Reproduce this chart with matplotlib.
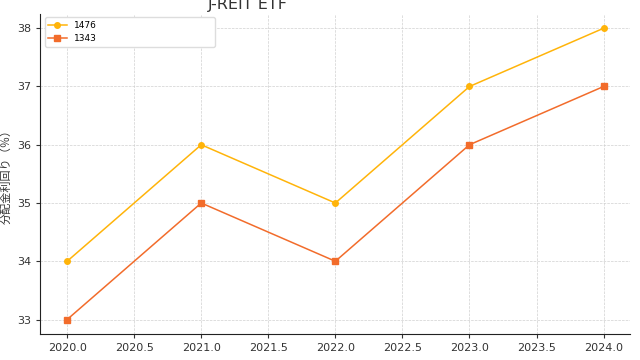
import matplotlib.pyplot as plt

years = [2020, 2021, 2022, 2023, 2024]
etf_1476 = [34, 36, 35, 37, 38]
etf_1343 = [33, 35, 34, 36, 37]

plt.rcParams['font.family'] = ['DejaVu Sans', 'Noto Sans CJK JP']

fig, ax = plt.subplots(figsize=(6.4, 3.6), dpi=100)
fig.subplots_adjust(left=0.063, right=0.985, top=0.962, bottom=0.072)

ax.plot(years, etf_1476, marker='o', markersize=4, linewidth=1.1, color='#FFB40A', label='1476')
ax.plot(years, etf_1343, marker='s', markersize=4, linewidth=1.1, color='#F26C2B', label='1343')

# title sits partly above the figure edge, like the original
fig.text(248 / 640, 1 - 9 / 360, 'J-REIT ETF', fontsize=11.5, color='#333333',
         ha='center', va='baseline')
ax.set_ylabel('分配金利回り（％）', fontsize=8, color='#333333')

ax.grid(True, linestyle='--', linewidth=0.5, color='#d0d0d0')
for s in ['top', 'right']:
    ax.spines[s].set_visible(False)
ax.spines['left'].set_color('#222222')
ax.spines['bottom'].set_color('#222222')
ax.tick_params(labelsize=8, colors='#333333', length=3)

ax.legend(loc='upper left', bbox_to_anchor=(0.0, 1.003, 0.303, 0.0), mode='expand',
          fontsize=6.5, frameon=True, framealpha=1, edgecolor='#dddddd')

plt.savefig('out.png', dpi=100)
